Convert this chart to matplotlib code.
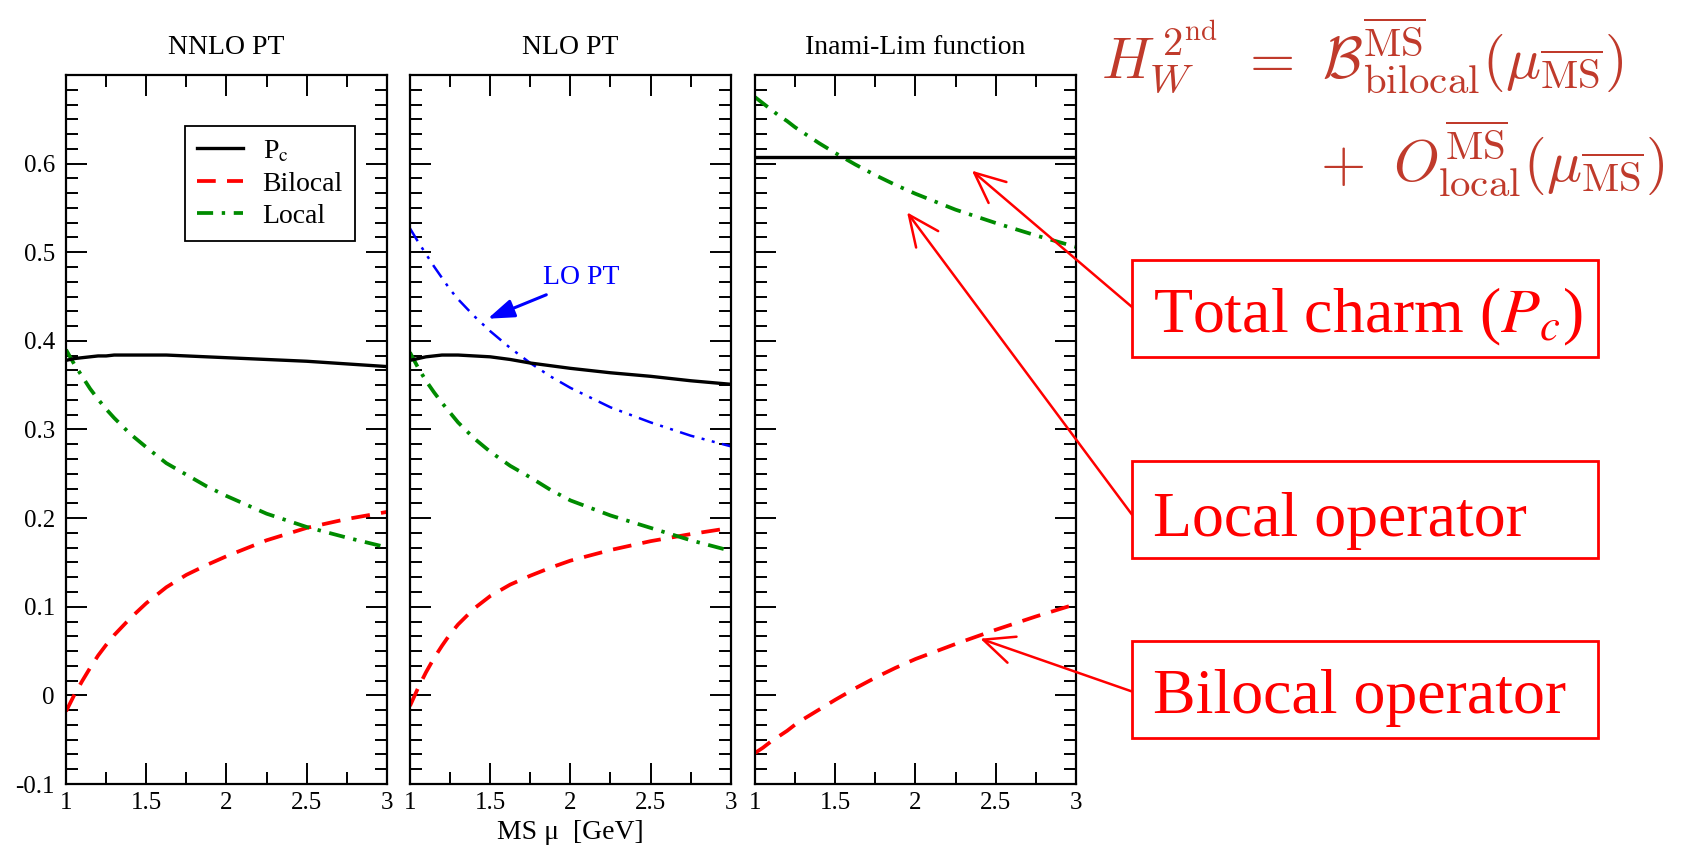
import numpy as np
import matplotlib.pyplot as plt
from matplotlib.ticker import MultipleLocator, AutoMinorLocator
from matplotlib.patches import Rectangle

plt.rcParams['font.family'] = ['Liberation Serif', 'DejaVu Serif']
plt.rcParams['mathtext.fontset'] = 'stix'

# renormalisation scale mu [GeV]
mu = [1.0, 1.05, 1.1, 1.15, 1.2, 1.25, 1.3, 1.4, 1.5, 1.625, 1.75, 1.875, 2.0, 2.25, 2.5, 2.75, 3.0]

# NNLO PT
pc_nnlo = [0.378, 0.380, 0.381, 0.382, 0.383, 0.383, 0.384, 0.384, 0.384, 0.384, 0.383, 0.382,
           0.381, 0.379, 0.377, 0.374, 0.371]
loc_nnlo = [0.390, 0.374, 0.360, 0.346, 0.334, 0.323, 0.313, 0.295, 0.280, 0.262, 0.249, 0.236,
            0.225, 0.205, 0.190, 0.178, 0.167]
bil_nnlo = [-0.018, 0.000, 0.016, 0.031, 0.045, 0.057, 0.068, 0.087, 0.104, 0.122, 0.136, 0.147,
            0.157, 0.175, 0.189, 0.199, 0.207]

# NLO PT
pc_nlo = [0.378, 0.380, 0.382, 0.383, 0.384, 0.384, 0.384, 0.383, 0.382, 0.379, 0.375, 0.372,
          0.369, 0.364, 0.360, 0.355, 0.351]
lo_nlo = [0.527, 0.512, 0.498, 0.484, 0.471, 0.458, 0.447, 0.428, 0.411, 0.392, 0.375, 0.360,
          0.347, 0.325, 0.308, 0.293, 0.281]
loc_nlo = [0.387, 0.370, 0.355, 0.342, 0.330, 0.319, 0.308, 0.290, 0.275, 0.259, 0.246, 0.232,
           0.220, 0.203, 0.189, 0.175, 0.163]
bil_nlo = [-0.012, 0.008, 0.026, 0.042, 0.056, 0.069, 0.080, 0.098, 0.112, 0.125, 0.135, 0.144,
           0.152, 0.164, 0.174, 0.182, 0.189]

# Inami-Lim function
pc_il = [0.608, 0.608, 0.608, 0.608, 0.608, 0.608, 0.608, 0.608, 0.608, 0.608, 0.608, 0.608,
         0.608, 0.608, 0.608, 0.608, 0.608]
loc_il = [0.675, 0.668, 0.661, 0.654, 0.648, 0.641, 0.635, 0.623, 0.612, 0.599, 0.587, 0.576,
          0.566, 0.548, 0.533, 0.519, 0.506]
bil_il = [-0.065, -0.059, -0.052, -0.046, -0.040, -0.033, -0.027, -0.016, -0.005, 0.008, 0.020,
          0.031, 0.041, 0.058, 0.074, 0.089, 0.103]

titles = ['NNLO PT', 'NLO PT', 'Inami-Lim function']
xticks = [1, 1.5, 2, 2.5, 3]
xticklabels = ['1', '1.5', '2', '2.5', '3']
yticks = [-0.1, 0, 0.1, 0.2, 0.3, 0.4, 0.5, 0.6]
yticklabels = ['-0.1', '0', '0.1', '0.2', '0.3', '0.4', '0.5', '0.6']

green = '#008b00'
red = '#ff0000'
darkred = '#c03a2b'

fig = plt.figure(figsize=(16.89, 8.52), dpi=100)

lefts = [0.0391, 0.2427, 0.4470]
axes = [fig.add_axes([l, 0.0798, 0.1900, 0.8322]) for l in lefts]

series = [(pc_nnlo, bil_nnlo, loc_nnlo), (pc_nlo, bil_nlo, loc_nlo), (pc_il, bil_il, loc_il)]

for i, ax in enumerate(axes):
    pc, bil, loc = series[i]
    ax.plot(mu, pc, color='black', lw=2.4, label=r'P$_\mathrm{c}$', zorder=4)
    ax.plot(mu, bil, color=red, lw=2.7, ls=(0, (5, 3)), label='Bilocal')
    ax.plot(mu, loc, color=green, lw=2.7, ls=(0, (4.3, 2.3, 0.9, 2.3)), label='Local')
    ax.set_xlim(1, 3)
    ax.set_ylim(-0.1, 0.7)
    ax.set_xticks(xticks)
    ax.set_xticklabels(xticklabels)
    ax.xaxis.set_minor_locator(MultipleLocator(0.25))
    ax.set_yticks(yticks)
    ax.set_yticklabels(yticklabels)
    ax.yaxis.set_minor_locator(AutoMinorLocator(6))
    ax.tick_params(which='both', direction='in', top=True, right=True,
                   width=1.4, labelsize=18, colors='black')
    ax.tick_params(which='major', length=15)
    ax.tick_params(which='minor', length=8.5)
    ax.tick_params(axis='y', pad=8)
    ax.tick_params(axis='x', pad=6)
    if i > 0:
        ax.tick_params(labelleft=False)
    for s in ax.spines.values():
        s.set_linewidth(1.6)
    ax.set_title(titles[i], fontsize=20, pad=15)

leg = axes[0].legend(loc='upper left', bbox_to_anchor=(0.37, 0.928), borderaxespad=0,
                     fontsize=20, handlelength=1.65, handletextpad=0.7, labelspacing=0.25,
                     borderpad=0.45, fancybox=False, framealpha=1, edgecolor='black')
leg.get_frame().set_linewidth(1.3)

axes[1].plot(mu, lo_nlo, color='blue', lw=1.8, ls=(0, (6, 3, 1.2, 3, 1.2, 3)))
axes[1].text(2.065, 0.472, 'LO PT', color='blue', fontsize=20, ha='center', va='center')
axes[1].annotate('', xy=(1.485, 0.425), xytext=(1.85, 0.452),
                 arrowprops=dict(arrowstyle='-|>,head_length=0.8,head_width=0.28',
                                 color='blue', lw=2.2, mutation_scale=20,
                                 shrinkA=0, shrinkB=0))

axes[1].set_xlabel('MS μ  [GeV]', fontsize=20, labelpad=4)

# formula
fig.text(0.652, 0.91,
         r'$H_W^{\,2^{\mathrm{nd}}}\ =\ \mathcal{B}^{\overline{\mathrm{MS}}}_{\mathrm{bilocal}}(\mu_{\overline{\mathrm{MS}}})$',
         fontsize=42, color=darkred, ha='left', va='baseline', math_fontfamily='cm')
fig.text(0.7815, 0.787,
         r'$+\;\; O^{\overline{\mathrm{MS}}}_{\mathrm{local}}(\mu_{\overline{\mathrm{MS}}})$',
         fontsize=42, color=darkred, ha='left', va='baseline', math_fontfamily='cm')

# boxes with arrows
box_labels = [r'Total charm ($P_c$)', 'Local operator', 'Bilocal operator']
box_bottoms = [0.581, 0.345, 0.1338]
box_baselines = [0.6095, 0.3709, 0.1631]
arrow_tails = [0.6397, 0.396, 0.1884]
arrow_tips = [(2.352, 0.592), (1.948, 0.545), (2.404, 0.064)]

for lab, b, bl in zip(box_labels, box_bottoms, box_baselines):
    fig.patches.append(Rectangle((0.6702, b), 0.2759, 0.1138, transform=fig.transFigure,
                                 fill=True, fc='white', ec=red, lw=2))
    fig.text(0.6827, bl, lab, fontsize=46, color=red, ha='left', va='baseline')

for ty, tip in zip(arrow_tails, arrow_tips):
    axes[2].annotate('', xy=tip, xycoords='data', xytext=(0.6702, ty),
                     textcoords='figure fraction', annotation_clip=False,
                     arrowprops=dict(arrowstyle='->,head_length=1.0,head_width=0.45',
                                     color=red, lw=1.8, mutation_scale=22,
                                     shrinkA=0, shrinkB=0))

fig.savefig('out.png', dpi=100)
